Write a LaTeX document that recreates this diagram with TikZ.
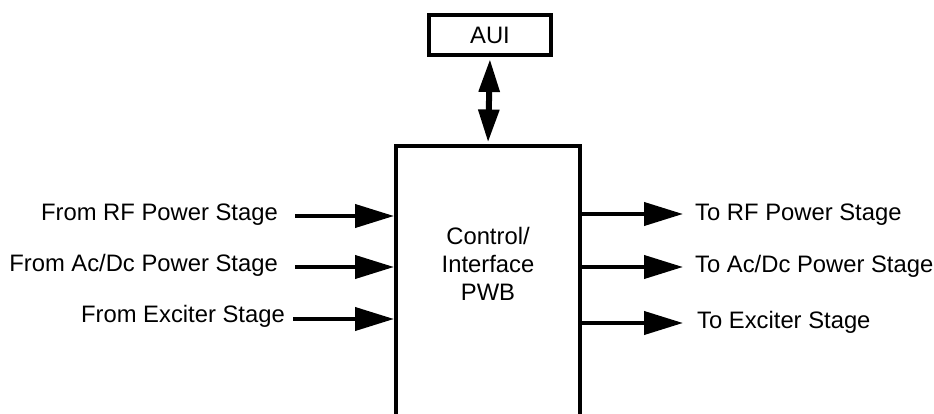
\documentclass[tikz,border=0pt]{standalone}
\usepackage{fontspec}
\setmainfont{Liberation Sans}
\usetikzlibrary{arrows.meta}

\begin{document}
\begin{tikzpicture}[x=1pt, y=-1pt,
    every node/.style={font=\fontsize{23.8}{28}\selectfont},
    box/.style={draw, line width=4pt, inner sep=0pt},
    lbl/.style={inner sep=0pt},
    sig/.style={line width=4pt, -{Triangle[length=39pt, width=23pt]}},
    bus/.style={line width=6pt, {Triangle[length=33pt, width=20pt]}-{Triangle[length=33pt, width=20pt]},
      shorten <=2pt, shorten >=2pt}]

    \useasboundingbox (0, 0) rectangle (934, 414);
    \clip (0, 0) rectangle (934, 414);

    \node[box, minimum width=122pt, minimum height=40pt] (aui) at (490, 35) {AUI};
    \node[box, minimum width=184pt, minimum height=320pt, anchor=north] (ctrl) at (488, 144.5) {};
    \node[align=center] (ctrltxt) at (488, 264) {Control/\\Interface\\PWB};

    \node[lbl, anchor=base east] (fromrf) at (278, 220) {From RF Power Stage};
    \node[lbl, anchor=base east] (fromac) at (278, 271) {From Ac/Dc Power Stage};
    \node[lbl, anchor=base east] (fromex) at (285, 322) {From Exciter Stage};
    \node[lbl, anchor=base west] (torf) at (695, 220) {To RF Power Stage};
    \node[lbl, anchor=base west] (toac) at (695, 272) {To Ac/Dc Power Stage};
    \node[lbl, anchor=base west] (toex) at (697, 328) {To Exciter Stage};

    \coordinate (in1) at (295, 216);
    \coordinate (in2) at (295, 267);
    \coordinate (in3) at (293, 319);
    \coordinate (out1) at (683, 214);
    \coordinate (out2) at (683, 267);
    \coordinate (out3) at (683, 323);

    \draw [bus] (aui.south) to (ctrl.north);
    \draw [sig] (in1) to (ctrl.west |- in1);
    \draw [sig] (in2) to (ctrl.west |- in2);
    \draw [sig] (in3) to (ctrl.west |- in3);
    \draw [sig] (ctrl.east |- out1) to (out1);
    \draw [sig] (ctrl.east |- out2) to (out2);
    \draw [sig] (ctrl.east |- out3) to (out3);

\end{tikzpicture}
\end{document}
